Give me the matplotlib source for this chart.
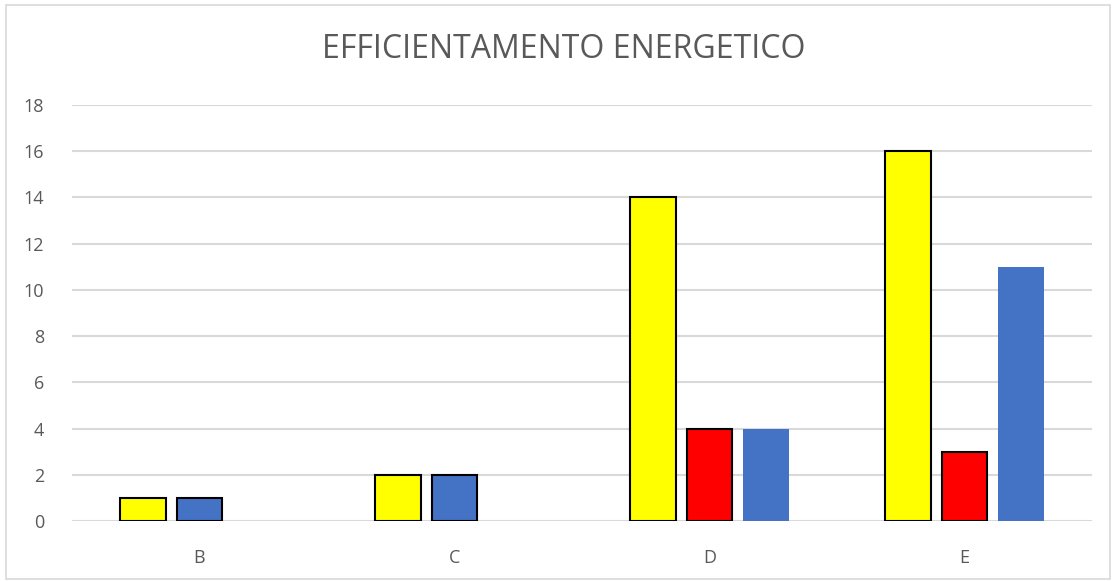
import matplotlib
matplotlib.use("Agg")
import matplotlib.pyplot as plt
from matplotlib.patches import Rectangle
import numpy as np

categories = ["B", "C", "D", "E"]
series1 = [1, 2, 14, 16]
series2 = [1, 2, 4, 3]
series2_colors = ["#4472C4", "#4472C4", "#FF0000", "#FF0000"]
series3 = [0, 0, 4, 11]
title = "EFFICIENTAMENTO ENERGETICO"

plt.rcParams['font.family'] = ['Open Sans', 'DejaVu Sans']

fig = plt.figure(figsize=(11.16, 5.81), dpi=100)
ax = fig.add_axes([72/1116, 1-521/581, (1092-72)/1116, (521-105)/581])

x = np.arange(len(categories))
w = 0.18
off = 0.22
ax.bar(x - off, series1, w, color="#FFFF00", edgecolor="black", linewidth=1.5, zorder=3)
ax.bar(x, series2, w, color=series2_colors, edgecolor="black", linewidth=1.5, zorder=3)
ax.bar(x + off, series3, w, color="#4472C4", edgecolor="none", zorder=3)

ax.set_xlim(-0.5, len(categories) - 0.5)
ax.set_ylim(0, 18)
ax.set_yticks(range(0, 19, 2))
ax.set_xticks(x)
ax.set_xticklabels(categories)
ax.yaxis.grid(True, color="#D9D9D9", linewidth=1.5, zorder=0)
ax.set_axisbelow(True)
for s in ax.spines.values():
    s.set_visible(False)
ax.tick_params(axis='both', length=0, colors="#595959", labelsize=13)
ax.tick_params(axis='x', pad=20)
ax.tick_params(axis='y', pad=20)

fig.text(564/1116, 1-49/581, title, ha="center", va="center", fontsize=23, color="#595959")

fig.add_artist(Rectangle((6/1116, 2/581), 1104/1116, 574/581, transform=fig.transFigure,
                         fill=False, edgecolor="#D9D9D9", linewidth=1.2))

fig.savefig("out.png", dpi=100)
